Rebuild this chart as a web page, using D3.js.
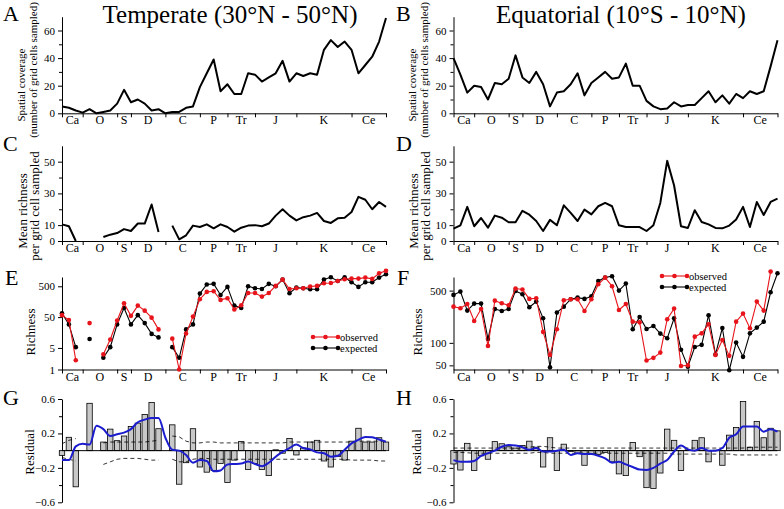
<!DOCTYPE html>
<html><head><meta charset="utf-8">
<script src="https://cdn.jsdelivr.net/npm/d3@7"></script>
<style>
body{margin:0;background:#fff}
text{font-family:"Liberation Serif","Times New Roman",serif;fill:#000}
</style>
</head><body>
<svg id="chart" width="784" height="509"></svg>
<script>
// ---------- data ----------
const periods = ["Ca","O","S","D","C","P","Tr","J","K","Ce"];
const periodBounds = [0,3,8,10,15,20,24,28,34,42,47];

const coverageTemp = [5,4,2,0.5,3,0,1,2,7,17,8,10,7,2,3,0,1,1,4,5,19,29,39,16,21,14,14,29,28,23,26,29,38,23,29,27,29,28,46,53,48,52,46,29,35,41,52,69];
const coverageEq   = [40,28,15,20,19,10,22,21,25,42,26,22,30,21,5,15,16,21,29,13,22,26,30,25,26,36,20,20,9,5,3,3.5,8,5,6,6,11,16,8,13,7,14,11,16,14,16,34,53];

const richnessTemp = [10.5,9.3,0,null,null,null,2.5,4,5,7.5,6.3,11,11,23,5.7,null,9.7,1,3.6,9.7,8.8,10.5,8,10.5,8.8,5.9,8.4,9.7,10,9.3,11,16,20,16,13,15,16,17.7,12.6,11.4,14.3,14.7,18.3,27.8,26,20,24.6,21.5];
const richnessEq   = [7.8,9.9,21.5,9.3,14.5,8.4,16,14.7,11.8,11.8,19,16.6,12.6,6.3,13.3,9.9,22.5,17.7,12.6,19.8,16.8,21.9,24,21.9,9.9,8.8,8.8,8.8,6.3,9.9,24,50.5,35,9.3,8.2,19.4,12,10.5,8.2,8,9.7,13.5,21.5,8.8,24.6,16.4,24.6,26.7];

const observedTemp = [58,40,2,null,32,null,3.1,9.4,39,141,55,118,81,48,20,null,10,1,14.7,52,190,329,346,181,205,88,121,304,304,231,304,515,825,409,430,430,490,515,627,642,745,846,888,888,957,867,1320,1580];
const expectedTemp = [67,29,5.3,null,9.8,null,2.4,5.3,29,99,29,58,32,14.3,11,null,5.3,2.4,20,29,290,570,600,262,478,118,99,500,430,409,600,500,825,297,456,430,400,400,825,980,745,980,676,478,676,676,957,1230];
const observedEq   = [305,290,331,196,284,91,367,339,318,532,516,387,395,140,69,152,372,383,383,267,383,608,747,571,275,331,192,188,58,63,74,207,287,49,50,121,134,177,69,109,67,192,246,157,356,270,898,null];
const expectedEq   = [438,485,270,335,335,113,284,267,284,495,447,299,356,213,47,254,305,383,403,387,420,673,747,778,500,621,152,222,153,168,133,115,213,81,48,88,94,234,70,158,43,101,65,134,160,192,475,853];

const residualTemp = [-0.055,0.155,-0.42,null,0.55,null,0.10,0.25,0.116,0.17,0.28,0.32,0.42,0.56,0.255,null,0.30,-0.39,-0.14,0.255,-0.19,-0.25,-0.23,-0.15,-0.37,-0.11,0.105,-0.22,-0.15,-0.22,-0.29,0.01,-0.03,0.14,-0.05,0.03,0.10,0.12,-0.12,-0.19,-0.07,-0.11,0.11,0.26,0.10,0.10,0.15,0.10];
const residualEq   = [-0.155,-0.225,0.085,-0.23,-0.06,-0.1,0.105,0.08,0.045,0.03,0.06,0.11,0.04,-0.19,0.15,-0.23,0.075,-0.01,-0.03,-0.17,-0.04,-0.045,-0.02,-0.13,-0.27,-0.29,0.095,-0.07,-0.43,-0.44,-0.26,0.25,0.12,-0.23,0.01,0.12,0.15,-0.13,0.005,-0.17,0.18,0.27,0.57,0.04,0.34,0.15,0.26,0.23];
const smoothTemp   = [-0.11,-0.11,0.05,0.08,0.07,0.29,0.25,0.17,0.19,0.21,0.25,0.33,0.36,0.38,0.38,0.15,0.01,0.0,-0.05,-0.14,-0.11,-0.12,-0.24,-0.23,-0.16,-0.155,-0.15,-0.125,-0.155,-0.18,-0.14,-0.07,-0.015,0.03,0.07,0.03,0.015,-0.02,-0.03,-0.07,-0.06,0.01,0.085,0.125,0.16,0.155,0.13,0.105];
const smoothEq     = [-0.11,-0.13,-0.13,-0.12,-0.06,-0.03,0.0,0.045,0.065,0.06,0.04,0.01,0.03,-0.01,-0.01,0.0,0.01,-0.05,-0.03,-0.04,-0.04,-0.06,-0.09,-0.14,-0.13,-0.16,-0.19,-0.22,-0.225,-0.2,-0.15,-0.11,-0.01,0.06,0.015,0.0,0.03,0.0,0.0,0.03,0.15,0.19,0.28,0.28,0.28,0.22,0.25,0.22];
const upperTemp    = [0.08,0.12,0.14,null,null,null,0.09,0.10,0.10,0.10,0.10,0.10,0.10,0.11,0.12,null,0.17,0.16,0.11,0.09,0.09,0.10,0.10,0.09,0.09,0.09,0.09,0.09,0.09,0.09,0.09,0.09,0.09,0.10,0.10,0.10,0.10,0.10,0.10,0.10,0.10,0.10,0.10,0.11,0.11,0.11,0.11,0.11];
const lowerTemp    = [-0.08,-0.10,-0.12,null,null,null,-0.16,-0.13,-0.10,-0.09,-0.09,-0.09,-0.10,-0.11,-0.11,null,-0.10,-0.13,-0.13,-0.10,-0.09,-0.09,-0.10,-0.10,-0.10,-0.10,-0.10,-0.10,-0.10,-0.10,-0.10,-0.10,-0.10,-0.10,-0.10,-0.10,-0.10,-0.10,-0.10,-0.10,-0.10,-0.10,-0.11,-0.11,-0.11,-0.11,-0.12,-0.12];
const upperEq      = [0.03,0.03,0.03,0.03,0.03,0.03,0.03,0.03,0.03,0.03,0.03,0.04,0.05,0.05,0.04,0.03,0.03,0.03,0.03,0.03,0.03,0.03,0.03,0.03,0.03,0.03,0.03,0.03,0.03,0.03,0.03,0.03,0.03,0.03,0.03,0.03,0.03,0.03,0.03,0.03,0.03,0.03,0.03,0.04,0.04,0.04,0.04,0.04];
const lowerEq      = [-0.02,-0.02,-0.025,-0.03,-0.03,-0.03,-0.03,-0.03,-0.03,-0.03,-0.03,-0.03,-0.02,-0.02,-0.03,-0.03,-0.03,-0.03,-0.03,-0.03,-0.03,-0.03,-0.03,-0.03,-0.03,-0.03,-0.03,-0.03,-0.03,-0.03,-0.03,-0.03,-0.04,-0.04,-0.04,-0.04,-0.04,-0.04,-0.04,-0.04,-0.04,-0.05,-0.05,-0.05,-0.05,-0.05,-0.05,-0.05];

// ---------- layout ----------
const svg = d3.select("#chart");
const idx = d3.range(48);
const xLeft  = d3.scaleLinear().domain([0,47]).range([62,386]);
const xRight = d3.scaleLinear().domain([0,47]).range([453.5,777.5]);

function drawYAxis(g, x, y, ticks, fmt, minor) {
  const ax = d3.axisLeft(y).tickValues(ticks).tickSize(4).tickSizeOuter(0).tickPadding(3).tickFormat(fmt);
  const a = g.append("g").attr("transform", `translate(${x.range()[0]},0)`).call(ax);
  a.selectAll("text").style("font-size","11px").style("font-family","Liberation Serif");
  a.select(".domain").attr("stroke","#000");
  if (minor) {
    g.append("g").attr("transform", `translate(${x.range()[0]},0)`)
      .call(d3.axisLeft(y).tickValues(minor).tickSize(3).tickFormat("").tickSizeOuter(0))
      .select(".domain").remove();
  }
}
function drawXAxis(g, x, yPix) {
  g.append("g").attr("transform", `translate(0,${yPix})`)
    .call(d3.axisBottom(x).tickValues(periodBounds).tickSize(4).tickSizeOuter(0).tickFormat(""));
  g.append("g").selectAll("text").data(periods).join("text")
    .attr("x", (d,i) => x((periodBounds[i]+periodBounds[i+1])/2))
    .attr("y", yPix + 11).attr("text-anchor","middle").style("font-size","12px").text(d => d);
}
function yLabel(g, x, cy, lines, size) {
  lines.forEach((t,k) => {
    g.append("text").attr("transform", `translate(${x[k]},${cy[k]}) rotate(-90)`)
      .attr("text-anchor","middle").style("font-size", size+"px").text(t);
  });
}
function letter(t, x, y) {
  svg.append("text").attr("x",x).attr("y",y).style("font-size","22px").text(t);
}

// ---------- A / B: coverage ----------
function coveragePanel(x, data, labX) {
  const g = svg.append("g");
  const y = d3.scaleLinear().domain([0,70]).range([113.3,16.7]);
  drawYAxis(g, x, y, [0,20,40,60], d3.format("d"), [10,30,50]);
  drawXAxis(g, x, 113.3);
  g.append("path").datum(data)
    .attr("d", d3.line().defined(d => d!=null).x((d,i)=>x(i)).y(d=>y(d)))
    .attr("fill","none").attr("stroke","#000").attr("stroke-width",2).attr("stroke-linejoin","round");
  yLabel(g, [labX, labX+12], [85, 70], ["Spatial coverage","(number of grid cells sampled)"], 11);
}
coveragePanel(xLeft, coverageTemp, 25);
coveragePanel(xRight, coverageEq, 416);
svg.append("text").attr("x",230).attr("y",23).attr("text-anchor","middle").style("font-size","25px").text("Temperate (30°N - 50°N)");
svg.append("text").attr("x",621).attr("y",23).attr("text-anchor","middle").style("font-size","25px").text("Equatorial (10°S - 10°N)");
letter("A",3,21); letter("B",396,21);

// ---------- C / D: mean richness ----------
function richPanel(x, data, labX) {
  const g = svg.append("g");
  const y = d3.scaleLinear().domain([0,60]).range([241,145.8]);
  drawYAxis(g, x, y, [0,10,30,50], d3.format("d"), [20,40]);
  drawXAxis(g, x, 241);
  g.append("path").datum(data)
    .attr("d", d3.line().defined(d => d!=null).x((d,i)=>x(i)).y(d=>y(d)))
    .attr("fill","none").attr("stroke","#000").attr("stroke-width",2).attr("stroke-linejoin","round");
  yLabel(g, [labX, labX+12], [211, 206], ["Mean richness","per grid cell sampled"], 13);
}
richPanel(xLeft, richnessTemp, 27);
richPanel(xRight, richnessEq, 418);
letter("C",3,151); letter("D",396,151);

// ---------- E / F: observed vs expected ----------
function obsPanel(x, y, ticks, obs, exp, labX, legX, legY) {
  const g = svg.append("g");
  drawYAxis(g, x, y, ticks, d3.format("d"), null);
  drawXAxis(g, x, 369.5);
  const series = [{d:exp, c:"#000"}, {d:obs, c:"#e8141b"}];
  series.forEach(s => {
    g.append("path").datum(s.d)
      .attr("d", d3.line().defined(d => d!=null).x((d,i)=>x(i)).y(d=>y(d)))
      .attr("fill","none").attr("stroke",s.c).attr("stroke-width",1.1);
    g.append("g").selectAll("circle").data(idx.filter(i => s.d[i]!=null)).join("circle")
      .attr("cx", i=>x(i)).attr("cy", i=>y(s.d[i])).attr("r",2.3).attr("fill",s.c);
  });
  yLabel(g, [labX], [332], ["Richness"], 13);
  // legend
  [["observed","#e8141b",0],["expected","#000",11]].forEach(([t,c,dy]) => {
    const lg = g.append("g");
    lg.append("line").attr("x1",legX).attr("x2",legX+25).attr("y1",legY+dy).attr("y2",legY+dy).attr("stroke",c).attr("stroke-width",1.1);
    [0,12.5,25].forEach(o => lg.append("circle").attr("cx",legX+o).attr("cy",legY+dy).attr("r",2.3).attr("fill",c));
    lg.append("text").attr("x",legX+27).attr("y",legY+dy+3.5).style("font-size","10.5px").text(t);
  });
}
const yE = d3.scaleLog().domain([1,1000]).range([369.5,277]);
const yF = d3.scaleLog().domain([44,760]).range([369.5,277]);
obsPanel(xLeft, yE, [1,5,50,500], observedTemp, expectedTemp, 35, 313, 337);
obsPanel(xRight, yF, [50,100,500], observedEq, expectedEq, 422, 662, 276);
letter("E",5,285); letter("F",397,285);

// ---------- G / H: residuals ----------
function residPanel(x, bars, smooth, upper, lower, labX) {
  const g = svg.append("g");
  const y = d3.scaleLinear().domain([-0.6,0.6]).range([502.3,399]);
  drawYAxis(g, x, y, [-0.6,-0.2,0.2,0.6], d3.format(".1f"), [-0.4,0,0.4]);
  const bw = 5.4;
  g.append("g").selectAll("rect").data(idx.filter(i => bars[i]!=null)).join("rect")
    .attr("x", i => x(i)-bw/2).attr("width", bw)
    .attr("y", i => y(Math.max(0,bars[i]))).attr("height", i => Math.abs(y(bars[i])-y(0)))
    .attr("fill","#c8c8c8").attr("stroke","#000").attr("stroke-width",0.8);
  g.append("line").attr("x1",x.range()[0]).attr("x2",x.range()[1]).attr("y1",y(0)).attr("y2",y(0)).attr("stroke","#000").attr("stroke-width",1);
  [upper, lower].forEach(s => g.append("path").datum(s)
    .attr("d", d3.line().defined(d => d!=null).x((d,i)=>x(i)).y(d=>y(d)))
    .attr("fill","none").attr("stroke","#000").attr("stroke-width",0.8).attr("stroke-dasharray","4,3"));
  g.append("path").datum(smooth)
    .attr("d", d3.line().curve(d3.curveMonotoneX).x((d,i)=>x(i)).y(d=>y(d)))
    .attr("fill","none").attr("stroke","#1c1ccf").attr("stroke-width",2);
  yLabel(g, [labX], [452], ["Residual"], 13);
}
residPanel(xLeft, residualTemp, smoothTemp, upperTemp, lowerTemp, 34);
residPanel(xRight, residualEq, smoothEq, upperEq, lowerEq, 421);
letter("G",3,405); letter("H",396,405);
</script>
</body></html>
